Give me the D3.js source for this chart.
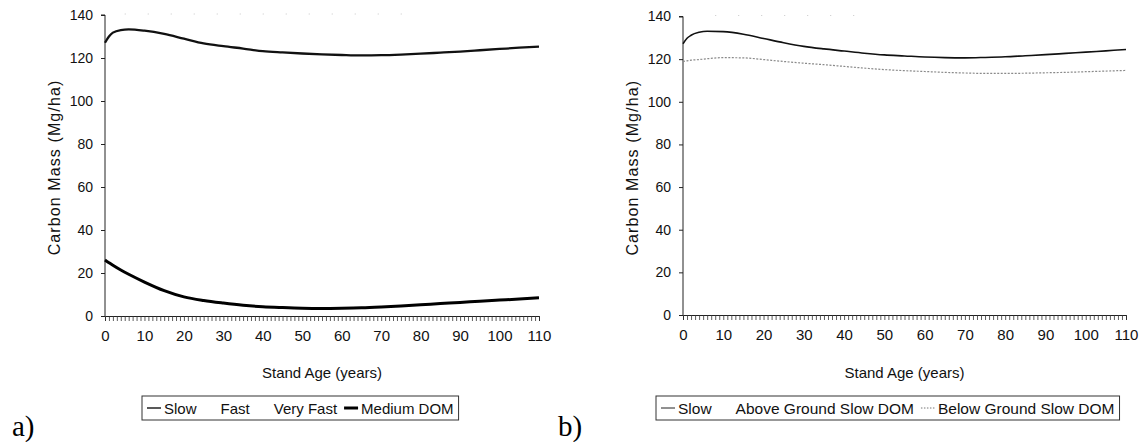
<!DOCTYPE html>
<html>
<head>
<meta charset="utf-8">
<script src="https://cdn.jsdelivr.net/npm/d3@7"></script>
<style>
  html, body { margin: 0; padding: 0; background: #fff; }
  svg { display: block; }
</style>
</head>
<body>
<svg id="chart" width="1139" height="442"></svg>
<script>
// ---------------- DATA ----------------
const years = [0,1,2,4,6,10,15,20,25,30,35,40,45,50,55,60,65,70,75,80,85,90,95,100,105,110];

// Panel a)
const slowA =      [127.1,130.0,131.8,133.0,133.3,132.7,131.2,129.0,126.8,125.5,124.4,123.2,122.6,122.1,121.7,121.4,121.2,121.3,121.6,122.0,122.5,123.0,123.6,124.2,124.8,125.3];
const mediumDOMA = [26.0,24.8,23.6,21.4,19.4,15.8,11.8,8.9,7.2,6.0,5.0,4.3,3.9,3.6,3.5,3.6,3.8,4.2,4.7,5.2,5.8,6.3,6.9,7.4,7.9,8.5];

// Panel b)
const slowB =      [127.2,129.8,131.2,132.6,133.1,132.9,131.7,129.7,127.7,126.0,124.8,123.8,122.8,122.0,121.5,121.0,120.7,120.6,120.8,121.1,121.6,122.1,122.7,123.3,123.9,124.5];
const belowSlowB = [118.9,119.2,119.5,119.8,120.2,120.7,120.6,119.8,118.9,118.1,117.4,116.6,115.8,115.1,114.6,114.2,113.8,113.5,113.3,113.3,113.4,113.6,113.8,114.1,114.4,114.7];

const xTickLabels = [0,10,20,30,40,50,60,70,80,90,100,110];
const xMinorTicks = d3.range(0, 111);
const yTickLabels = [0,20,40,60,80,100,120,140];

const legendA = ["Slow", "Fast", "Very Fast", "Medium DOM"];
const legendB = ["Slow", "Above Ground Slow DOM", "Below Ground Slow DOM"];

const yTitle = "Carbon Mass (Mg/ha)";
const xTitle = "Stand Age (years)";

// ---------------- DRAW ----------------
const SANS = "'Liberation Sans', Arial, sans-serif";
const SERIF = "'Liberation Serif', 'Times New Roman', serif";
const svg = d3.select("#chart");

function panel(cfg) {
  const x = d3.scaleLinear().domain([0, 110]).range(cfg.xr);
  const y = d3.scaleLinear().domain([0, 140]).range(cfg.yr);
  const g = svg.append("g");

  // faint scan dots near the top
  g.append("line")
    .attr("x1", x(cfg.dots[0])).attr("x2", x(cfg.dots[1]))
    .attr("y1", y(140) - 1).attr("y2", y(140) - 1)
    .attr("stroke", "#c8c8c8").attr("stroke-width", 1)
    .attr("stroke-dasharray", "1,22");

  // y axis
  const yAxis = d3.axisLeft(y).tickValues(yTickLabels).tickSize(4).tickPadding(8).tickFormat(d3.format("d"));
  const ya = g.append("g").attr("transform", `translate(${cfg.xr[0]},0)`).call(yAxis);
  ya.select(".domain").attr("stroke", "#222").attr("d", `M-4,${y(140)}H0V${y(0)}`);
  ya.selectAll(".tick line").attr("stroke", "#222");
  ya.selectAll("text").style("font-size", "14px").style("font-family", SANS).attr("fill", "#111");

  // x axis minor ticks (every year)
  const xMinor = d3.axisBottom(x).tickValues(xMinorTicks).tickSize(5).tickFormat("");
  const xm = g.append("g").attr("transform", `translate(0,${cfg.yr[0]})`).call(xMinor);
  xm.select(".domain").attr("stroke", "#222");
  xm.selectAll(".tick line").attr("stroke", "#333").attr("stroke-width", 0.8);

  // x axis labels
  const xLab = d3.axisBottom(x).tickValues(xTickLabels).tickSize(0).tickPadding(14).tickFormat(d3.format("d"));
  const xl = g.append("g").attr("transform", `translate(0,${cfg.yr[0]})`).call(xLab);
  xl.select(".domain").remove();
  xl.selectAll("text").style("font-size", "15px").style("font-family", SANS).attr("fill", "#111");

  // titles
  g.append("text")
    .attr("transform", `translate(${cfg.yTitleX},${(cfg.yr[0] + cfg.yr[1]) / 2 + 2}) rotate(-90)`)
    .attr("text-anchor", "middle")
    .style("font-family", SANS)
    .style("font-size", "16px")
    .style("letter-spacing", "1.1px")
    .attr("fill", "#111")
    .text(yTitle);
  g.append("text")
    .attr("x", (cfg.xr[0] + cfg.xr[1]) / 2)
    .attr("y", 378)
    .attr("text-anchor", "middle")
    .style("font-family", SANS)
    .style("font-size", "15px")
    .attr("fill", "#111")
    .text(xTitle);

  // series lines
  const line = d3.line().x((d, i) => x(years[i])).y(d => y(d)).curve(d3.curveMonotoneX);
  cfg.series.forEach(s => {
    g.append("path")
      .datum(s.values)
      .attr("d", line)
      .attr("fill", "none")
      .attr("stroke", s.color)
      .attr("stroke-width", s.width)
      .attr("stroke-dasharray", s.dash || null)
      .attr("stroke-linejoin", "round");
  });

  // legend
  const lg = g.append("g");
  let cx = cfg.legendX + 5;
  cfg.legend.forEach((name, i) => {
    const st = cfg.legendStyles[i];
    lg.append("line")
      .attr("x1", cx).attr("x2", cx + 14)
      .attr("y1", cfg.legendY + 12).attr("y2", cfg.legendY + 12)
      .attr("stroke", st.color).attr("stroke-width", st.width)
      .attr("stroke-dasharray", st.dash || null);
    const t = lg.append("text")
      .attr("x", cx + 17).attr("y", cfg.legendY + 18)
      .style("font-family", SANS)
      .style("font-size", cfg.legendFont + "px")
      .attr("fill", "#111")
      .text(name);
    const w = t.node().getComputedTextLength();
    cx = cx + 17 + w + 7;
  });
  const boxW = cx - 7 + 5 - cfg.legendX;
  lg.insert("rect", ":first-child")
    .attr("x", cfg.legendX).attr("y", cfg.legendY)
    .attr("width", boxW).attr("height", 24)
    .attr("fill", "#fff").attr("stroke", "#333").attr("stroke-width", 1);

  // panel label
  g.append("text")
    .attr("x", cfg.labelX).attr("y", 436)
    .style("font-family", SERIF)
    .style("font-size", "29px")
    .attr("fill", "#000")
    .text(cfg.label);
}

panel({
  xr: [105, 539], yr: [316, 15],
  yTitleX: 60,
  dots: [5, 80],
  series: [
    { values: slowA, color: "#111", width: 2.3 },
    { values: mediumDOMA, color: "#000", width: 3 }
  ],
  legend: legendA,
  legendFont: 15,
  legendStyles: [
    { color: "#222", width: 1.5 },
    { color: "none", width: 0 },
    { color: "none", width: 0 },
    { color: "#000", width: 3 }
  ],
  legendX: 142, legendY: 396,
  label: "a)", labelX: 12
});

panel({
  xr: [683, 1126], yr: [315, 16.5],
  yTitleX: 638,
  dots: [8, 46],
  series: [
    { values: belowSlowB, color: "#8a8a8a", width: 1.2, dash: "2,1.5" },
    { values: slowB, color: "#111", width: 1.6 }
  ],
  legend: legendB,
  legendFont: 15.5,
  legendStyles: [
    { color: "#222", width: 1 },
    { color: "none", width: 0 },
    { color: "#777", width: 1, dash: "1.5,1.5" }
  ],
  legendX: 656, legendY: 396,
  label: "b)", labelX: 558
});
</script>
</body>
</html>
